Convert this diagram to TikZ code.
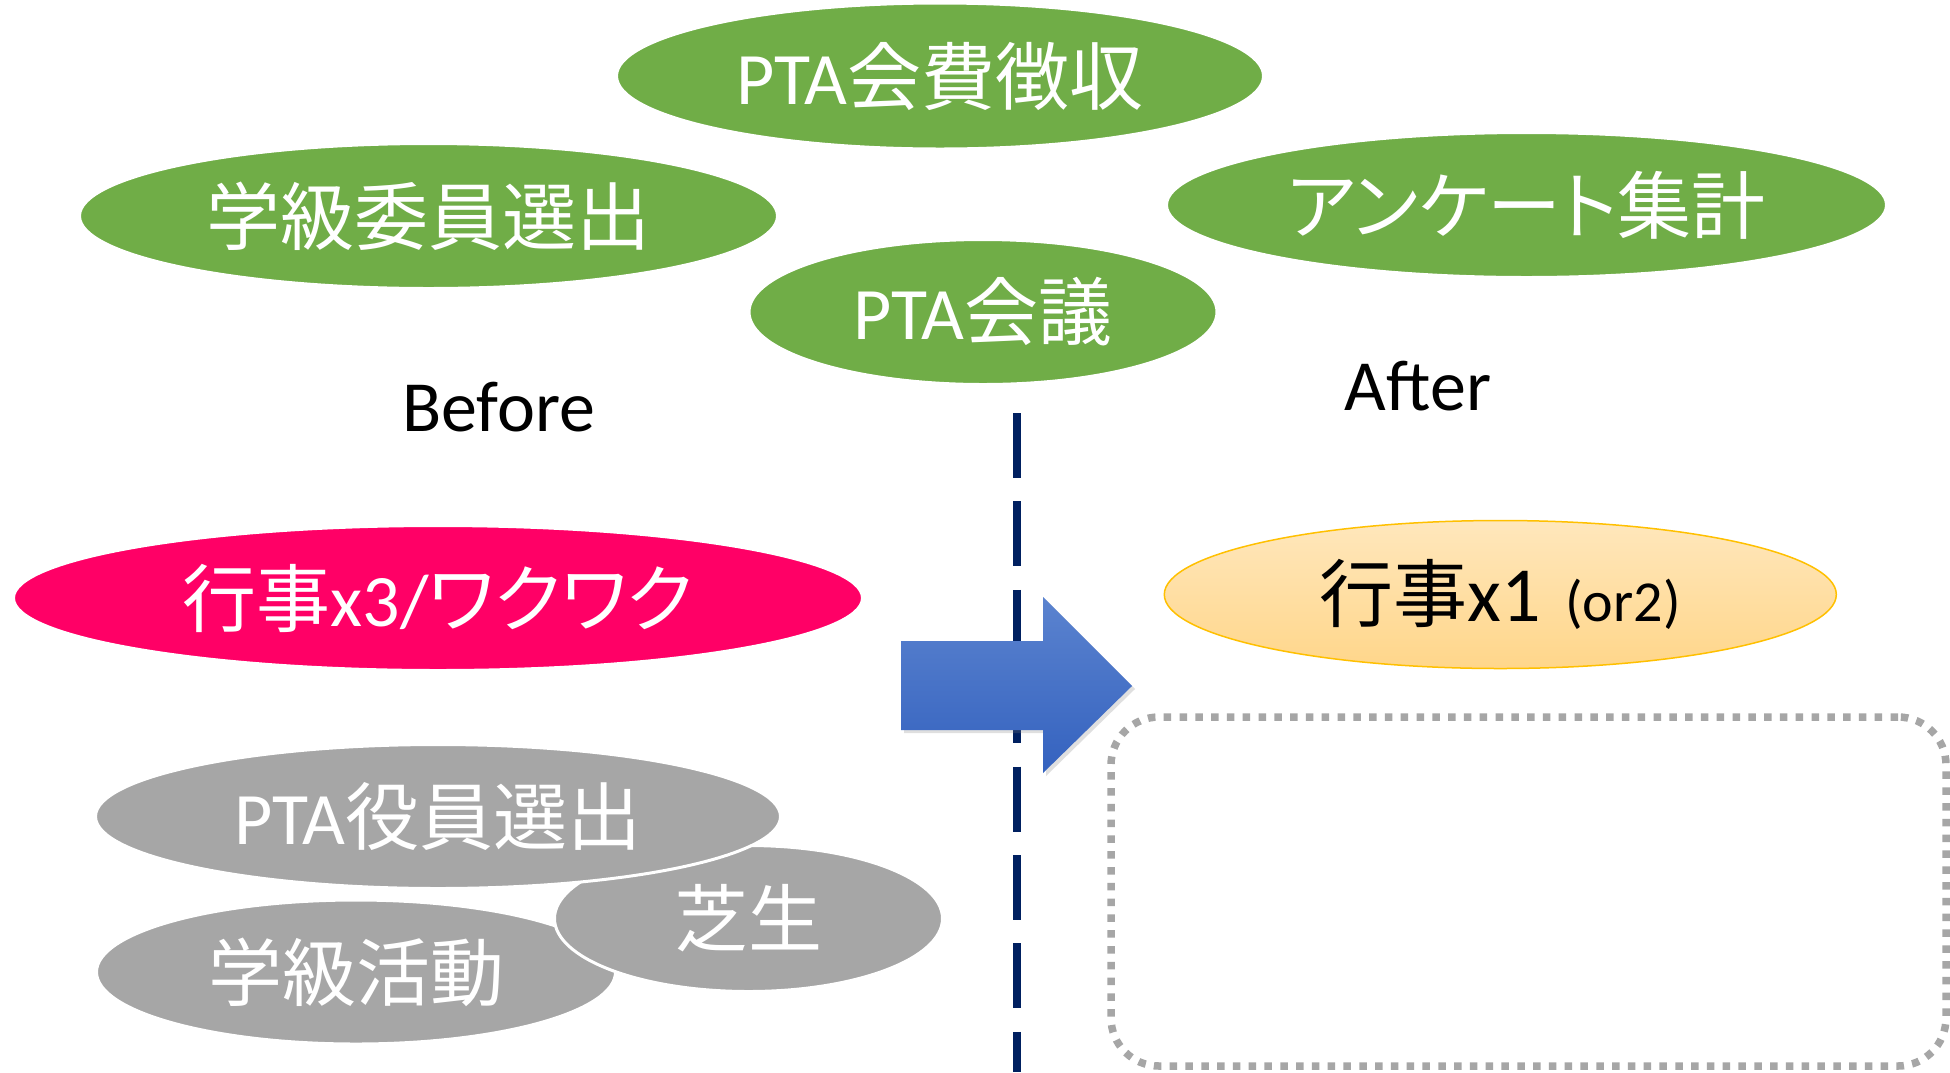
\documentclass[tikz,border=0pt]{standalone}
\usepackage{fontspec}
\setmainfont{Carlito}
\newfontfamily\jp{Noto Sans CJK JP}[RawFeature={+palt}]
\usetikzlibrary{shapes.geometric,shadows}
\definecolor{pgreen}{HTML}{70AD47}
\definecolor{ppink}{HTML}{FF0066}
\definecolor{pgray}{HTML}{A6A6A6}
\definecolor{pnavy}{HTML}{002060}
\definecolor{porange}{HTML}{FFC000}
\definecolor{ptop}{HTML}{FFE7BC}
\definecolor{pbot}{HTML}{FFD68A}
\definecolor{atop}{HTML}{5B83CF}
\definecolor{abot}{HTML}{3462BF}
\begin{document}
\begin{tikzpicture}[x=1pt,y=-1pt,
  bub/.style={ellipse, inner sep=0pt, draw=white, line width=3pt, text=white,
    font=\fontsize{74}{84}\selectfont},
  greenbub/.style={bub, fill=pgreen},
  graybub/.style={bub, fill=pgray},
  pinkbub/.style={bub, fill=ppink},
  orangebub/.style={bub, draw=porange, line width=1.5pt, top color=ptop, bottom color=pbot, text=black},
  caption/.style={anchor=base, font=\fontsize{72}{80}\selectfont, text=black},
  divider/.style={draw=pnavy, line width=7.5pt, dash pattern=on 65pt off 23.4pt},
  dotbox/.style={draw=pgray, line width=7.5pt, dash pattern=on 7.5pt off 8.3pt, rounded corners=48pt, inner sep=0pt},
  bigarrow/.style={top color=atop, bottom color=abot, drop shadow={opacity=0.25, shadow xshift=3pt, shadow yshift=-3pt}}
]
\useasboundingbox (0,0) rectangle (1950,1072);
\fill[white] (0,0) rectangle (1950,1072);

% divider
\coordinate (dtop) at (1017,413);
\coordinate (dbot) at (1017,1072);
\draw[divider] (dtop) -- (dbot);

% green bubbles
\node[greenbub, minimum width=647pt, minimum height=146pt] (fee) at (940,76) {PTA{\jp 会費徴収}};
\node[greenbub, minimum width=698pt, minimum height=145pt] (iin) at (428.5,216) {{\jp 学級委員選出}};
\node[greenbub, minimum width=720pt, minimum height=145pt] (enq) at (1526.5,205) {{\jp アンケート集計}};
\node[greenbub, minimum width=468pt, minimum height=145pt] (mtg) at (983,312) {PTA{\jp 会議}};

% captions
\node[caption] (before) at (498.7,431.5) {Before};
\node[caption] (after) at (1418,410) {After};

% events
\node[pinkbub, minimum width=849pt, minimum height=145pt] (ev3) at (438,598) {{\jp 行事}x3/{\jp ワクワク}};
\node[orangebub, minimum width=672pt, minimum height=148pt] (ev1) at (1500.3,594.5) {{\jp 行事}{\fontsize{78}{84}\selectfont x1}\hspace{24pt}{\fontsize{58}{62}\selectfont (or2)}};

% gray bubbles
\node[graybub, minimum width=519pt, minimum height=144pt] (act) at (356,972) {{\jp 学級活動}};
\node[graybub, minimum width=388pt, minimum height=146pt] (lawn) at (748.5,918.5) {{\jp 芝生}};
\node[graybub, minimum width=685pt, minimum height=144pt] (off) at (438,816.5) {PTA{\jp 役員選出}};

% arrow
\path[bigarrow] (901,641) -- (1043,641) -- (1043,597) -- (1132,686) -- (1043,773) -- (1043,730) -- (901,730) -- cycle;

% dotted box
\node[dotbox, minimum width=835pt, minimum height=349pt] (box) at (1528.5,891.5) {};
\end{tikzpicture}
\end{document}
